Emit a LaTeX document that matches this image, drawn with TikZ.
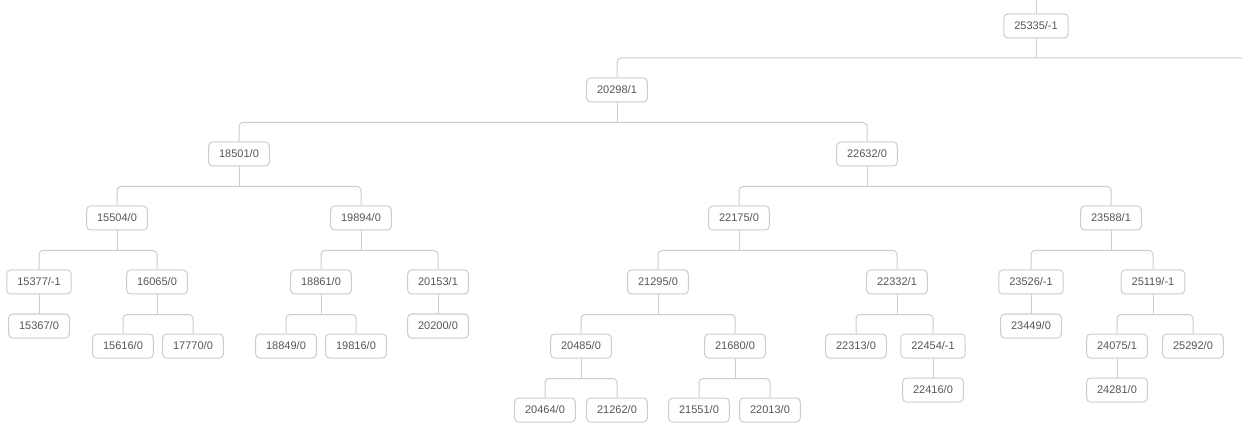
\documentclass[tikz,border=0pt]{standalone}
\usepackage{fontspec}
\setmainfont{Liberation Sans}
\usepackage{xcolor}
\usepackage{tikz}
\definecolor{boxline}{HTML}{CCCCCC}
\definecolor{boxtext}{HTML}{555555}
\tikzset{every picture/.style={x=1pt,y=-1pt},
  box/.style={rectangle, rounded corners=4pt, draw=boxline, line width=1pt, text=boxtext,
    minimum height=24pt, inner ysep=0pt, inner xsep=10.5pt,
    font=\fontsize{11pt}{13pt}\selectfont},
  edge/.style={draw=boxline, line width=1pt}}

\begin{document}
\begin{tikzpicture}
        \useasboundingbox (0,0) rectangle (1242,438);
        \node[box] (n1) at (1036, 26) {25335/-1};
        \node[box] (n2) at (617, 90) {20298/1};
        \node[box] (n3) at (239, 154) {18501/0};
        \node[box] (n4) at (867, 154) {22632/0};
        \node[box] (n5) at (117, 218) {15504/0};
        \node[box] (n6) at (361, 218) {19894/0};
        \node[box] (n7) at (739, 218) {22175/0};
        \node[box] (n8) at (1111, 218) {23588/1};
        \node[box] (n9) at (39, 282) {15377/-1};
        \node[box] (n10) at (157, 282) {16065/0};
        \node[box] (n11) at (321, 282) {18861/0};
        \node[box] (n12) at (438, 282) {20153/1};
        \node[box] (n13) at (658, 282) {21295/0};
        \node[box] (n14) at (897, 282) {22332/1};
        \node[box] (n15) at (1031, 282) {23526/-1};
        \node[box] (n16) at (1153, 282) {25119/-1};
        \node[box] (n17) at (39, 326) {15367/0};
        \node[box] (n18) at (123, 346) {15616/0};
        \node[box] (n19) at (193, 346) {17770/0};
        \node[box] (n20) at (286, 346) {18849/0};
        \node[box] (n21) at (356, 346) {19816/0};
        \node[box] (n22) at (438, 326) {20200/0};
        \node[box] (n23) at (581, 346) {20485/0};
        \node[box] (n24) at (735, 346) {21680/0};
        \node[box] (n25) at (856, 346) {22313/0};
        \node[box] (n26) at (933, 346) {22454/-1};
        \node[box] (n27) at (1031, 326) {23449/0};
        \node[box] (n28) at (1117, 346) {24075/1};
        \node[box] (n29) at (1193, 346) {25292/0};
        \node[box] (n30) at (545, 410) {20464/0};
        \node[box] (n31) at (617, 410) {21262/0};
        \node[box] (n32) at (699, 410) {21551/0};
        \node[box] (n33) at (770, 410) {22013/0};
        \node[box] (n34) at (933, 390) {22416/0};
        \node[box] (n35) at (1117, 390) {24281/0};
        \coordinate (topend) at (1036, 0);
        \coordinate (rightend) at (1242, 58);

        % top: cut off parent and sibling
        \draw[edge] (n1.north) -- (topend);
        \draw[edge] (n1.south) -- (n1.south |- rightend);
        \draw[edge, rounded corners=4pt] (n2.north) |- (rightend);

        % parents with two children
        \foreach \from in {n2, n3, n4, n5, n6, n7, n8, n10, n11, n13, n14, n16, n23, n24}
        \draw[edge] (\from.south) -- ([yshift=-20pt]\from.south);
        \foreach \from/\to in {
          n2/n3, n2/n4,
          n3/n5, n3/n6, n4/n7, n4/n8,
          n5/n9, n5/n10, n6/n11, n6/n12,
          n7/n13, n7/n14, n8/n15, n8/n16,
          n10/n18, n10/n19, n11/n20, n11/n21,
          n13/n23, n13/n24, n14/n25, n14/n26,
          n16/n28, n16/n29,
          n23/n30, n23/n31, n24/n32, n24/n33}
        \draw[edge, rounded corners=4pt] (\to.north) |- ([yshift=-20pt]\from.south);

        % single children
        \foreach \from/\to in {n9/n17, n12/n22, n15/n27, n26/n34, n28/n35}
        \draw[edge] (\from) -- (\to);
      \end{tikzpicture}
\end{document}
